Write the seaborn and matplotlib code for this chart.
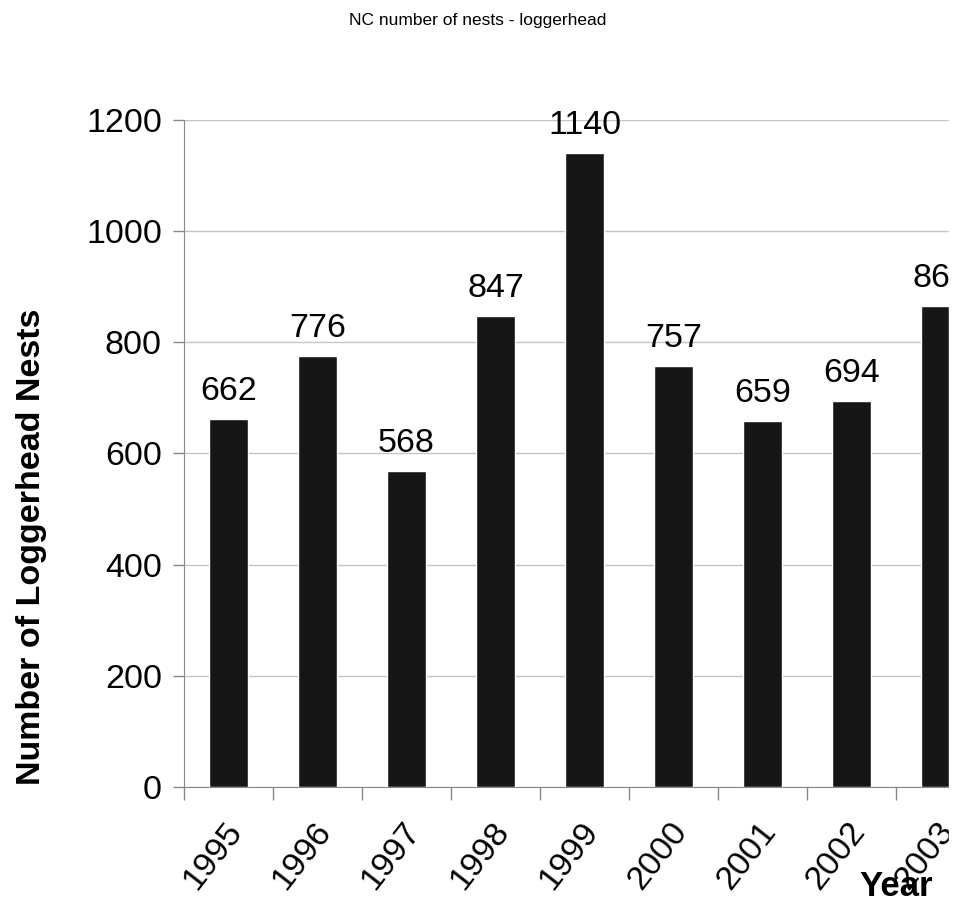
import matplotlib
matplotlib.use("Agg")
import matplotlib.pyplot as plt
import matplotlib.transforms as mtrans
import pandas as pd
import seaborn as sns

years = ["1995", "1996", "1997", "1998", "1999", "2000", "2001", "2002", "2003"]
nests = [662, 776, 568, 847, 1140, 757, 659, 694, 866]
yticks = [0, 200, 400, 600, 800, 1000, 1200]

df = pd.DataFrame({"Year": years, "Nests": nests})

sns.set_style("white")
plt.rcParams["font.family"] = ["Liberation Sans", "DejaVu Sans"]
plt.rcParams["text.color"] = "black"
plt.rcParams["axes.labelcolor"] = "black"
plt.rcParams["xtick.labelcolor"] = "black"
plt.rcParams["ytick.labelcolor"] = "black"

fig = plt.figure(figsize=(9.57, 9.07), dpi=100)
# axes runs past the right edge on purpose: the scan is cut off there
ax = fig.add_axes([184 / 957, 1 - 787 / 907, 801 / 957, 667 / 907])

sns.barplot(data=df, x="Year", y="Nests", color="#161616", width=0.43,
            saturation=1, ax=ax, zorder=3)

ax.set_ylim(0, 1200)
ax.set_xlim(-0.5, 8.5)
ax.set_yticks(yticks)
ax.yaxis.grid(True, color="#c4c4c4", linewidth=1.0, zorder=0)
ax.set_axisbelow(True)

for s in ["top", "right"]:
    ax.spines[s].set_visible(False)
ax.spines["left"].set_color("#888888")
ax.spines["bottom"].set_color("#888888")

ax.tick_params(axis="y", labelsize=24.5, length=8, width=1, color="#888888",
               pad=8, left=True)
ax.set_xticks([i - 0.5 for i in range(len(years) + 1)], minor=True)
ax.tick_params(axis="x", which="minor", length=9, width=1, color="#888888",
               direction="out", bottom=True)
ax.tick_params(axis="x", which="major", length=0, labelsize=24.5, pad=28)
ax.set_xticks(range(len(years)))
ax.set_xticklabels(years, rotation=52, ha="right", va="center",
                   rotation_mode="anchor")
shift = mtrans.ScaledTranslation(8 / 100, 0, fig.dpi_scale_trans)
for lab in ax.get_xticklabels():
    lab.set_transform(lab.get_transform() + shift)

for i, v in enumerate(nests):
    ax.annotate(str(v), (i, v), xytext=(0, 12), textcoords="offset pixels",
                ha="center", va="bottom", fontsize=24.5, annotation_clip=False)

ax.set_xlabel("")
ax.set_ylabel("")
fig.text(32 / 957, 1 - 547 / 907, "Number of Loggerhead Nests", fontsize=24.5,
         fontweight="bold", rotation=90, ha="center", va="center")
fig.text(896 / 957, 1 - 886 / 907, "Year", fontsize=25, fontweight="bold",
         ha="center", va="center")
fig.text(478 / 957, 1 - 20 / 907, "NC number of nests - loggerhead",
         fontsize=12.5, ha="center", va="center")

# the scanned page ends a few pixels before the image edge
fig.patches.append(plt.Rectangle((949 / 957, 0), 8 / 957, 1, color="white",
                                 transform=fig.transFigure, figure=fig,
                                 zorder=10))

fig.savefig("out.png", dpi=100)
